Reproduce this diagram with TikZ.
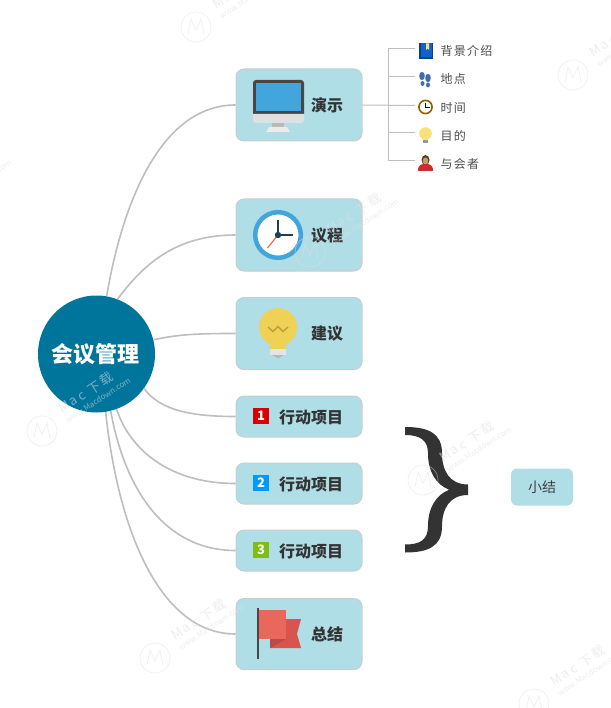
\documentclass[tikz,border=0pt]{standalone}
\usepackage{fontspec}
\setmainfont{Noto Sans CJK SC}
\newfontfamily\spaced[LetterSpace=10]{Noto Sans CJK SC}
\newfontfamily\wmfont[LetterSpace=18]{Noto Sans CJK SC}
\definecolor{boxfill}{HTML}{B0DEE6}
\definecolor{boxline}{HTML}{C8CDD0}
\definecolor{linkc}{HTML}{BEBEBE}
\definecolor{hubc}{HTML}{00759C}
\definecolor{inkc}{HTML}{333333}
\definecolor{flagA}{HTML}{E8695C}
\definecolor{flagB}{HTML}{D9534F}
\definecolor{flagC}{HTML}{B84A48}
\definecolor{bulbc}{HTML}{EFD255}
\definecolor{bulbd}{HTML}{BFA238}
\definecolor{blueA}{HTML}{42A5DC}
\definecolor{handc}{HTML}{1D3F50}
\definecolor{wmg}{HTML}{E0E0E0}
\definecolor{footc}{HTML}{3F6DB0}
\definecolor{bookc}{HTML}{0F62C8}
\definecolor{bookd}{HTML}{0A3F8C}
\definecolor{leafbulb}{HTML}{F7E27A}
\definecolor{clockr}{HTML}{8A6400}
\definecolor{shirt}{HTML}{D02A2A}
\definecolor{skin}{HTML}{C89A6A}
\definecolor{hair}{HTML}{5A3A22}
\tikzset{
  topicbox/.style={draw=boxline,line width=1pt,fill=boxfill,rounded corners=8pt,minimum width=126pt,inner sep=0pt},
  toplabel/.style={font=\bfseries\fontsize{16}{16}\selectfont,text=inkc,inner sep=0pt},
  leaflabel/.style={font=\spaced\fontsize{12}{12}\selectfont,text=black!70,anchor=west,inner sep=0pt},
  link/.style={draw=linkc,line width=1.6pt},
  sublink/.style={draw=linkc,line width=1pt},
  badge/.style={minimum size=16pt,inner sep=0pt,text=white,font=\bfseries\fontsize{13}{13}\selectfont},
  wmlogo/.style={draw=wmg,line width=.8pt,fill=none,opacity=.45},
  wmtext/.style={text=wmg,text opacity=.55,rotate=33,anchor=west,inner sep=0pt,align=left},
}
\newcommand{\wmark}[3]{%
  \begin{scope}[shift={(#1,#2)}]
    \draw[wmlogo] (0,0) circle (15);
    \draw[wmlogo] (-8,7) -- (-5,-8) -- (0,3) -- (5,-8) -- (8,7);
    \node[wmtext] (#3) at (20,-17) {{\wmfont\fontsize{13}{13}\selectfont Mac 下载}\\[-1pt]{\fontsize{8}{8}\selectfont www.Macdown.com}};
  \end{scope}}
\begin{document}
\begin{tikzpicture}[x=1pt,y=-1pt]
\useasboundingbox (0,0) rectangle (610,708);
\fill[white] (0,0) rectangle (610,708);

% hub and topic boxes
\node[circle,fill=hubc,minimum size=117pt,inner sep=0pt] (hub) at (96.5,354) {};
\node[topicbox,minimum height=72pt] (b1) at (299,105) {};
\node[topicbox,minimum height=72pt] (b2) at (299,235) {};
\node[topicbox,minimum height=72pt] (b3) at (299,333.5) {};
\node[topicbox,minimum height=41pt] (b4) at (299,416.5) {};
\node[topicbox,minimum height=41pt] (b5) at (299,483.5) {};
\node[topicbox,minimum height=41pt] (b6) at (299,550.5) {};
\node[topicbox,minimum height=71pt] (b7) at (299,634) {};

% main connectors
\draw[link] (hub.80) .. controls (122,205) and (160,105) .. (b1.west);
\draw[link] (hub.69) .. controls (143,265) and (175,235) .. (b2.west);
\draw[link] (hub.14) .. controls (180,334) and (200,333.5) .. (b3.west);
\draw[link] (hub.-36) .. controls (160,410) and (190,416.5) .. (b4.west);
\draw[link] (hub.-70) .. controls (130,450) and (170,483.5) .. (b5.west);
\draw[link] (hub.-76) .. controls (125,490) and (165,550.5) .. (b6.west);
\draw[link] (hub.-81) .. controls (118,530) and (160,634) .. (b7.west);

\node[font=\bfseries\fontsize{22}{22}\selectfont,text=white,inner sep=0pt] (hubt) at (95,354) {会议管理};

% leaf connectors
\coordinate (j1) at (388,105.5);
\coordinate (l1) at (415,49);
\coordinate (l2) at (415,77);
\coordinate (l3) at (415,105.5);
\coordinate (l4) at (415,133);
\coordinate (l5) at (415,161);
\draw[sublink] (b1.east) -- (l3);
\draw[sublink] (j1) |- (l1);
\draw[sublink] (j1) |- (l2);
\draw[sublink] (j1) |- (l4);
\draw[sublink] (j1) |- (l5);

% leaf labels
\node[leaflabel] (t1) at (440.5,51) {背景介绍};
\node[leaflabel] (t2) at (440.5,79) {地点};
\node[leaflabel] (t3) at (440.5,107.5) {时间};
\node[leaflabel] (t4) at (440.5,135.5) {目的};
\node[leaflabel] (t5) at (440.5,163.5) {与会者};

% leaf icons
\fill[bookd] (419,43) rectangle (432.5,59);
\fill[bookc] (421,43.5) rectangle (432,57.5);
\fill[leafbulb] (426,43.5) -- (429,43.5) -- (429,50) -- (427.5,48.5) -- (426,50) -- cycle;
\fill[footc] (422,76) ellipse (2.8 and 4.2) (422.5,83.5) ellipse (2 and 2.4);
\fill[footc] (428,78) ellipse (2.8 and 4.2) (428,85) ellipse (2 and 2.4);
\draw[draw=clockr,line width=1.6pt,fill=white] (425.5,107) circle (6.6);
\draw[black,line width=.7pt] (425.5,103) -- (425.5,107) -- (429.5,107);
\fill[leafbulb] (425.5,133.5) circle (6.3);
\fill[leafbulb] (423,137) rectangle (428,140);
\fill[black!40] (423,140) rectangle (428,143);
\fill[shirt] (418,171) .. controls (418,164) and (422,164) .. (425.5,164) .. controls (429,164) and (433,164) .. (433,171) -- cycle;
\fill[hair] (425.5,160) ellipse (4 and 5);
\fill[skin] (425.5,161) ellipse (2.8 and 3.6);

% topic labels
\node[toplabel] (lb1) at (327,105.5) {演示};
\node[toplabel] (lb2) at (327,235.5) {议程};
\node[toplabel] (lb3) at (327,334) {建议};
\node[toplabel,anchor=west] (lb4) at (279,417) {行动项目};
\node[toplabel,anchor=west] (lb5) at (279,484) {行动项目};
\node[toplabel,anchor=west] (lb6) at (279,551) {行动项目};
\node[toplabel] (lb7) at (327,634) {总结};

% monitor icon
\fill[black!72] (253,114) [rounded corners=3pt] -- (253,80) -- (304,80) [sharp corners] -- (304,114) -- cycle;
\fill[blueA] (256,83) rectangle (301,111);
\fill[black!12] (304,114) [rounded corners=3pt] -- (304,123) -- (253,123) [sharp corners] -- (253,114) -- cycle;
\fill[black!28] (272,123) rectangle (284,127);
\fill[black!8] (266,132) -- (269,127) -- (287,127) -- (290,132) -- cycle;

% clock icon
\draw[draw=blueA,line width=4.5pt,fill=white] (278,235) circle (22.8);
\draw[draw=flagA,line width=1.2pt] (278,235) -- (267.5,248);
\draw[draw=handc,line width=1.4pt] (278,220) -- (278,235) -- (292.5,235);
\fill[handc] (278,235) circle (3.2);

% bulb icon
\fill[bulbc] (278,327) circle (19);
\fill[bulbc] (270,338) rectangle (286,349);
\fill[black!10] (270,349) rectangle (286,355);
\fill[black!28] (272,355) -- (284,355) -- (278,358.5) -- cycle;
\draw[draw=bulbd,line width=1.5pt] (268,327) -- (273,331.5) -- (278,326.5) -- (283,331.5) -- (288,327);

% numbered badges
\node[badge,fill=red!85!black] (n1) at (261,416) {1};
\node[badge,fill=blue!40!cyan] (n2) at (261,483) {2};
\node[badge,fill={rgb,255:red,125;green,190;blue,16}] (n3) at (261,550) {3};

% flag icon
\fill[flagB] (270,619) -- (301,619) -- (297,634) -- (301,648) -- (270,648) -- cycle;
\fill[flagC] (270,639) -- (286,639) -- (270,648) -- cycle;
\fill[flagA] (259,610) rectangle (286,639);
\draw[draw=black!72,line width=2.5pt] (258,608) -- (258,659);

% brace
\fill[inkc] (405,427) .. controls (428,427) and (442,433) .. (442,453) .. controls (442,470) and (449,484.5) .. (468,484.5) -- (468,495) .. controls (449,495) and (442,509.5) .. (442,526.5) .. controls (442,546.5) and (428,552.5) .. (405,552.5) -- (405,544.5) .. controls (420,544.5) and (428,540) .. (428,526) .. controls (428,508) and (436,495) .. (449,489.75) .. controls (436,484.5) and (428,471.5) .. (428,453.5) .. controls (428,440) and (420,435) .. (405,435) -- cycle;

% summary box
\node[fill=boxfill,rounded corners=6pt,minimum width=62pt,minimum height=37pt,inner sep=0pt,font=\fontsize{14}{14}\selectfont,text=black!75] (sum) at (542,487) {小结};

% watermarks over the content
\wmark{196}{27}{wm1}
\wmark{573}{75}{wm2}
\wmark{-77}{213}{wm3}
\wmark{310}{252}{wm4}
\wmark{42}{431}{wm5}
\wmark{423}{480}{wm6}
\wmark{155}{658}{wm7}
\wmark{534}{704}{wm8}
\end{tikzpicture}
\end{document}
